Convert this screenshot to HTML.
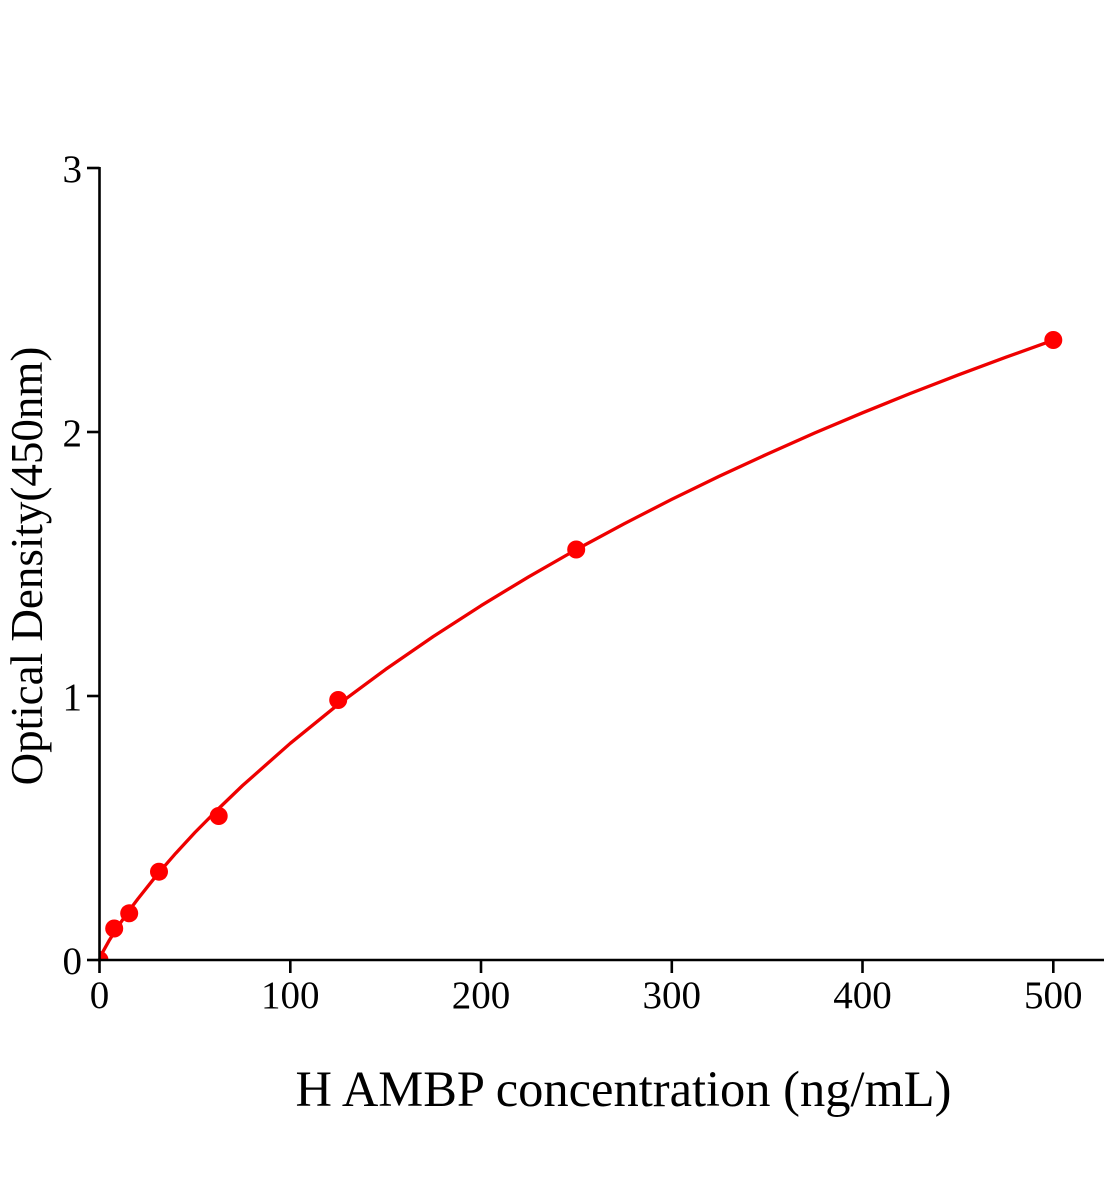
<!DOCTYPE html>
<html>
<head>
<meta charset="utf-8">
<style>
  html, body { margin: 0; padding: 0; background: #ffffff; }
  svg { display: block; }
  text { font-family: "Liberation Serif", "Times New Roman", serif; fill: #000; }
</style>
</head>
<body>
<svg width="1104" height="1200" viewBox="0 0 1104 1200" xmlns="http://www.w3.org/2000/svg">
  <defs>
    <clipPath id="plot">
      <rect x="99.5" y="100" width="1004.5" height="860"/>
    </clipPath>
  </defs>
  <rect x="0" y="0" width="1104" height="1200" fill="#ffffff"/>

  <!-- curve -->
  <polyline fill="none" stroke="#ee0000" stroke-width="3.3" stroke-linejoin="round" stroke-linecap="round"
    points="99.5,960 101.4,955.1 103.3,951.1 109.0,940.8 118.6,925.6 128.1,911.9 137.7,899.1 156.7,875.2 175.8,853.2 194.9,832.5 218.7,808.5 242.6,785.5 290.3,743.3 337.9,704.7 385.6,669.4 433.3,636.5 481.0,605.7 528.7,576.8 576.4,549.5 624.1,523.8 671.8,499.3 719.5,476.1 767.2,454.1 814.9,432.9 862.5,412.8 910.2,393.5 957.9,375.1 1005.6,357.3 1053.3,340.2"/>

  <!-- data points -->
  <g fill="#ff0000">
    <circle cx="99.5" cy="960" r="9" clip-path="url(#plot)"/>
    <circle cx="114.2" cy="928.5" r="9"/>
    <circle cx="129.2" cy="913.3" r="9"/>
    <circle cx="159" cy="871.7" r="9"/>
    <circle cx="218.7" cy="816" r="9"/>
    <circle cx="338.2" cy="700" r="9"/>
    <circle cx="576.2" cy="549.5" r="9"/>
    <circle cx="1053.3" cy="340" r="9"/>
  </g>

  <!-- axes -->
  <g stroke="#000" stroke-width="2.6" fill="none">
    <line x1="99.5" y1="167" x2="99.5" y2="961.3"/>
    <line x1="98.2" y1="960" x2="1104" y2="960"/>
    <!-- y ticks -->
    <line x1="87" y1="168" x2="99.5" y2="168"/>
    <line x1="87" y1="432" x2="99.5" y2="432"/>
    <line x1="87" y1="696" x2="99.5" y2="696"/>
    <line x1="87" y1="960" x2="99.5" y2="960"/>
    <!-- x ticks -->
    <line x1="99.5" y1="960" x2="99.5" y2="973"/>
    <line x1="290.3" y1="960" x2="290.3" y2="973"/>
    <line x1="481" y1="960" x2="481" y2="973"/>
    <line x1="671.8" y1="960" x2="671.8" y2="973"/>
    <line x1="862.5" y1="960" x2="862.5" y2="973"/>
    <line x1="1053.3" y1="960" x2="1053.3" y2="973"/>
  </g>

  <!-- y tick labels -->
  <g font-size="39" text-anchor="end">
    <text x="82" y="182">3</text>
    <text x="82" y="446">2</text>
    <text x="82" y="710">1</text>
    <text x="82" y="974">0</text>
  </g>

  <!-- x tick labels -->
  <g font-size="39" text-anchor="middle">
    <text x="99.5" y="1008">0</text>
    <text x="290.3" y="1008">100</text>
    <text x="481" y="1008">200</text>
    <text x="671.8" y="1008">300</text>
    <text x="862.5" y="1008">400</text>
    <text x="1053.3" y="1008">500</text>
  </g>

  <!-- axis titles -->
  <text x="623.5" y="1106" font-size="50.5" text-anchor="middle">H AMBP concentration (ng/mL)</text>
  <text transform="translate(42,566) rotate(-90)" font-size="45" text-anchor="middle">Optical Density(450nm)</text>
</svg>
</body>
</html>
